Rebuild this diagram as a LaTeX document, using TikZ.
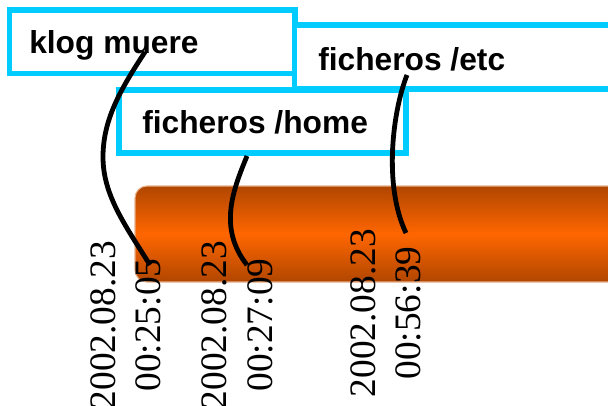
\documentclass[tikz,border=0pt]{standalone}
\usepackage{fontspec}
\setmainfont{Liberation Serif}
\newfontfamily\labelfont{Liberation Sans}
\definecolor{boxcyan}{HTML}{00CCFF}
\definecolor{bardark}{HTML}{B04600}
\definecolor{barlight}{HTML}{FF6600}
\definecolor{barrim}{HTML}{E6B08A}
\begin{document}
\begin{tikzpicture}[x=0.75pt,y=-0.75pt,
  cyanbox/.style={draw=boxcyan, line width=4.1pt, fill=white},
  tag/.style={font=\labelfont\bfseries\fontsize{23.8}{28}\selectfont, anchor=base west, inner sep=0pt},
  stamp/.style={font=\fontsize{28}{34}\selectfont, rotate=90, align=center, inner sep=0pt},
  link/.style={draw=black, line width=3.6pt}]
\useasboundingbox (0,0) rectangle (608,405);
\fill[white] (0,0) rectangle (608,405);

% timeline bar
\shade[top color=bardark, bottom color=bardark, middle color=barlight, rounded corners=9pt]
  (135,186) rectangle (650,282);
\draw[barrim, line width=0.8pt, rounded corners=9pt] (135,186) rectangle (650,282);

% event boxes
\draw[cyanbox] (9.5,10) rectangle (295,73.5);
\draw[cyanbox] (294.5,25) rectangle (650,89);
\draw[cyanbox] (119,90) rectangle (406,153);

\node[tag] (klog) at (29,53) {klog muere};
\node[tag] (etc) at (318,70) {ficheros /etc};
\node[tag] (home) at (142,133) {ficheros /home};

% timestamps
\node[stamp] (t1) at (126,325) {2002.08.23\\00:25:05};
\node[stamp] (t2) at (237.5,325) {2002.08.23\\00:27:09};
\node[stamp] (t3) at (386,313) {2002.08.23\\00:56:39};

% connector end points
\coordinate (k0) at (145,52);
\coordinate (km) at (103,157);
\coordinate (k1) at (150,265);
\coordinate (h0) at (247,156);
\coordinate (h1) at (247,265);
\coordinate (e0) at (407,75);
\coordinate (e1) at (406,233);

\draw[link] (k0) .. controls (120,90) and (103,120) .. (km)
                 .. controls (103,195) and (125,225) .. (k1);
\draw[link] (h0) .. controls (233,190) and (218,228) .. (h1);
\draw[link] (e0) .. controls (393,110) and (383,185) .. (e1);
\end{tikzpicture}
\end{document}
